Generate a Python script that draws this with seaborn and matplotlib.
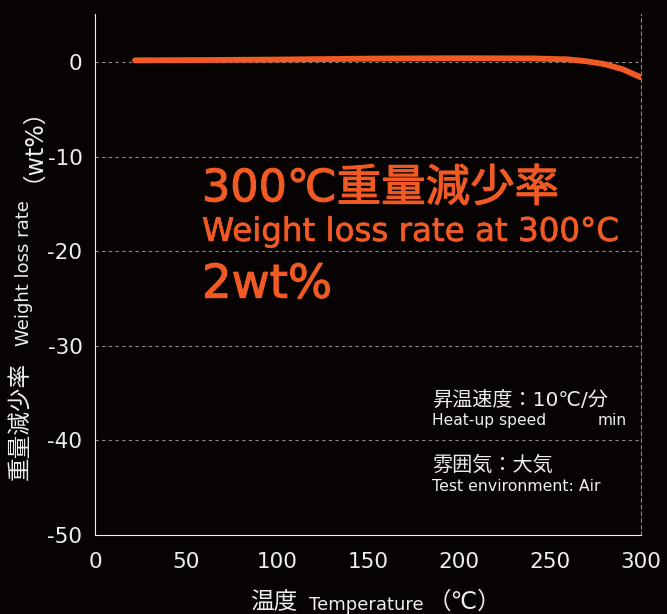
import numpy as np
import pandas as pd
import seaborn as sns
import matplotlib.pyplot as plt
import matplotlib.patheffects as pe

# TG curve
temp = [22, 50, 100, 150, 200, 240, 260, 270, 280, 290, 300]
loss = [0.2, 0.22, 0.28, 0.38, 0.42, 0.4, 0.3, 0.1, -0.2, -0.75, -1.6]
xticks = [0, 50, 100, 150, 200, 250, 300]
yticks = [0, -10, -20, -30, -40, -50]

bg = '#080303'
orange = '#F15A24'
fg = '#eeeeee'
grid = '#8a8a8a'

sns.set_style('dark', rc={'axes.facecolor': bg, 'figure.facecolor': bg})
plt.rcParams['font.family'] = ['DejaVu Sans', 'Noto Sans CJK JP']
plt.rcParams['axes.unicode_minus'] = False

df = pd.DataFrame({'temp': temp, 'loss': loss})

fig = plt.figure(figsize=(6.67, 6.14), dpi=100)
ax = fig.add_axes([95/667, 1-535/614, (641-95)/667, (535-14)/614])
sns.lineplot(data=df, x='temp', y='loss', ax=ax, color=orange, linewidth=4.2,
             solid_capstyle='round')

ax.set_xlim(0, 300)
ax.set_ylim(-50, 5.1)
ax.set_xticks(xticks)
ax.set_yticks(yticks)
ax.set_xlabel('')
ax.set_ylabel('')
ax.tick_params(axis='x', direction='in', length=10, width=1, color=fg,
               labelsize=15.5, labelcolor=fg, pad=12)
ax.tick_params(axis='y', length=0, labelsize=15.5, labelcolor=fg, pad=9)

ax.spines['top'].set_visible(False)
ax.spines['left'].set_color(fg)
ax.spines['bottom'].set_color(fg)
ax.spines['right'].set_visible(True)
ax.spines['right'].set_color(grid)
ax.spines['right'].set_linestyle((0, (3, 3)))
ax.spines['right'].set_linewidth(0.8)
for v in yticks[:-1]:
    ax.axhline(v, color=grid, lw=0.8, ls=(0, (3, 3)), zorder=0)

# headline, thickened a little with a stroke
big = [pe.withStroke(linewidth=0.8, foreground=orange)]
small = [pe.withStroke(linewidth=0.5, foreground=orange)]
ax.text(58.8, -14.7, '300℃重量減少率', color=orange, fontsize=32, va='baseline', path_effects=big)
ax.text(58.8, -18.9, 'Weight loss rate at 300°C', color=orange, fontsize=23.4, va='baseline', path_effects=small)
ax.text(58.8, -24.9, '2wt%', color=orange, fontsize=33.5, va='baseline', path_effects=big)

# conditions
ax.text(185.2, -36.3, '昇温速度：10℃/分', color=fg, fontsize=14.5, va='baseline')
ax.text(185.2, -38.4, 'Heat-up speed', color=fg, fontsize=11.2, va='baseline')
ax.text(276, -38.4, 'min', color=fg, fontsize=11.2, va='baseline')
ax.text(185.2, -43.2, '雰囲気：大気', color=fg, fontsize=14.5, va='baseline')
ax.text(185.2, -45.3, 'Test environment: Air', color=fg, fontsize=11.3, va='baseline')

# axis labels in pieces
fig.text(250/667, 1-602/614, '温度', color=fg, fontsize=17, ha='left', va='center')
fig.text(309/667, 1-605/614, 'Temperature', color=fg, fontsize=13, ha='left', va='center')
fig.text(428/667, 1-602/614, '（℃）', color=fg, fontsize=17, ha='left', va='center')

fig.text(20/667, 1-480/614, '重量減少率', color=fg, fontsize=17, rotation=90, ha='center', va='bottom')
fig.text(24/667, 1-346/614, 'Weight loss rate', color=fg, fontsize=13, rotation=90, ha='center', va='bottom')
fig.text(20/667, 1-182/614, '（wt%）', color=fg, fontsize=17, rotation=90, ha='center', va='bottom')

fig.savefig('out.png', dpi=100, facecolor=bg)
